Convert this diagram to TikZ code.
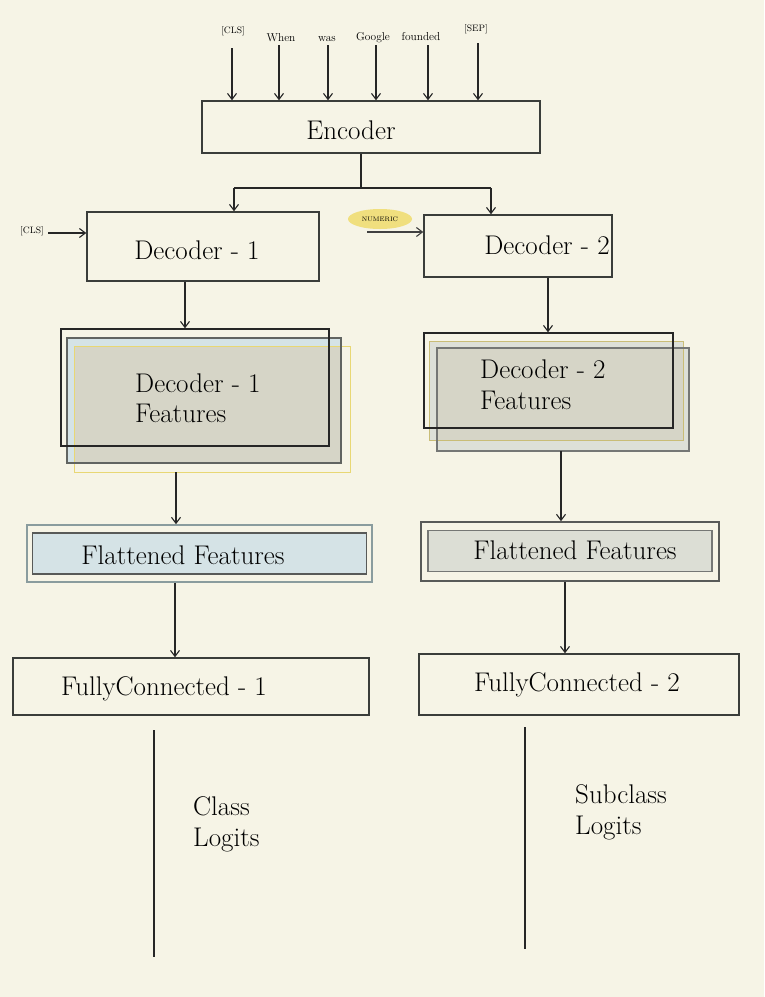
\documentclass[tikz,border=0pt]{standalone}
\usetikzlibrary{arrows.meta,shapes.geometric}
\definecolor{bg}{HTML}{F6F4E6}
\definecolor{boxline}{HTML}{3A3D3A}
\definecolor{featgray}{HTML}{D6D5C7}
\definecolor{featblue}{HTML}{D5E3E6}
\definecolor{featyel}{HTML}{E8D774}
\definecolor{numyel}{HTML}{F0DF7E}
\definecolor{flatline}{HTML}{8A9C9E}
\definecolor{dgray}{HTML}{DDE0D8}
\begin{document}
\begin{tikzpicture}[x=1pt,y=-1pt,
  box/.style={draw=boxline,line width=1.4pt,fill=bg,inner sep=0pt},
  lbl/.style={font=\fontsize{27}{30.5}\selectfont,inner sep=0pt,text=black},
  tok/.style={font=\fontsize{11.4}{12}\selectfont,inner sep=0pt},
  stok/.style={font=\fontsize{9.3}{10}\selectfont,inner sep=0pt},
  arr/.style={draw=black!85,line width=1.2pt,-{Straight Barb[length=6pt,width=9pt,line width=1.1pt]}},
  plain/.style={draw=black!85,line width=1.2pt}]
\useasboundingbox[fill=bg] (0,0) rectangle (764,997);

% tokens
\node[stok] (t1) at (233,31) {[CLS]};
\node[tok] (t2) at (281,38) {When};
\node[tok] (t3) at (327,39) {was};
\node[tok] (t4) at (373,38) {Google};
\node[tok] (t5) at (421,37) {founded};
\node[stok] (t6) at (476,29) {[SEP]};

% encoder
\node[box,minimum width=338pt,minimum height=52pt] (enc) at (371,127) {};
\node[lbl] (enclbl) at (351,130) {Encoder};

\draw[arr] (232,48) coordinate (a1) -- (a1 |- enc.north);
\draw[arr] (279,45) coordinate (a2) -- (a2 |- enc.north);
\draw[arr] (328,45) coordinate (a3) -- (a3 |- enc.north);
\draw[arr] (376,45) coordinate (a4) -- (a4 |- enc.north);
\draw[arr] (428,45) coordinate (a5) -- (a5 |- enc.north);
\draw[arr] (478,43) coordinate (a6) -- (a6 |- enc.north);

% decoders
\node[box,minimum width=232pt,minimum height=69pt] (dec1) at (203,246.5) {};
\node[lbl] (dec1lbl) at (197,250) {Decoder - 1};
\node[box,minimum width=188pt,minimum height=62pt] (dec2) at (518,246) {};
\node[lbl] (dec2lbl) at (547,245) {Decoder - 2};

\coordinate (split) at (361,188);
\draw[plain] (split |- enc.south) -- (split);
\coordinate (sl) at (234,188);
\coordinate (sr) at (491,188);
\draw[plain] (sl) -- (sr);
\draw[arr] (sl) -- (sl |- dec1.north);
\draw[arr] (sr) -- (sr |- dec2.north);

\node[stok] (cls2) at (32,231) {[CLS]};
\coordinate (c2s) at (48,233);
\draw[arr] (c2s) -- (c2s -| dec1.west);

\node[fill=numyel,ellipse,minimum width=64pt,minimum height=20pt,inner sep=0pt,
      font=\fontsize{6.5}{7}\selectfont] (num) at (380,219) {NUMERIC};
\coordinate (ns) at (367,232);
\draw[arr,draw=black!75] (ns) -- (ns -| dec2.west);

% Decoder-1 features stack
\fill[bg] (74,346) rectangle (350,472);
\fill[featblue] (67,338) rectangle (341,463);
\fill[featgray] (74,346) rectangle (341,463);
\draw[featyel,line width=1pt] (74,346) rectangle (350,472);
\draw[boxline!80,line width=1.4pt] (67,338) rectangle (341,463);
\node[draw=black!85,line width=1.4pt,minimum width=268pt,minimum height=117pt,inner sep=0pt] (f1) at (195,387.5) {};
\node[lbl,align=left,anchor=west] (f1lbl) at (135,398) {Decoder - 1\\Features};

% Decoder-2 features stack
\fill[dgray] (429,341) rectangle (683,440);
\fill[dgray] (437,348) rectangle (689,451);
\fill[featgray] (437,348) rectangle (683,440);
\draw[featyel!70!gray,line width=1pt] (429,341) rectangle (683,440);
\draw[boxline!70,line width=1.3pt] (437,348) rectangle (689,451);
\node[draw=black!85,line width=1.4pt,minimum width=249pt,minimum height=95pt,inner sep=0pt] (f2) at (548.5,380.5) {};
\node[lbl,align=left,anchor=west] (f2lbl) at (480,384.5) {Decoder - 2\\Features};

\coordinate (x185) at (185,0);
\coordinate (x548) at (548,0);
\draw[arr] (x185 |- dec1.south) -- (x185 |- f1.north);
\draw[arr] (x548 |- dec2.south) -- (x548 |- f2.north);

% flattened
\node[draw=flatline,line width=1.6pt,fill=bg,minimum width=345pt,minimum height=57pt,inner sep=0pt] (fl1) at (199.5,553.5) {};
\node[draw=boxline!85,line width=1.2pt,fill=featblue,minimum width=334pt,minimum height=41pt,inner sep=0pt] (fl1in) at (199.5,553.5) {};
\node[lbl] (fl1lbl) at (183,555) {Flattened Features};

\node[draw=boxline!85,line width=1.6pt,fill=bg,minimum width=298pt,minimum height=59pt,inner sep=0pt] (fl2) at (570,551.5) {};
\node[draw=boxline!70,line width=1.4pt,fill=dgray!80!featgray,minimum width=284pt,minimum height=41pt,inner sep=0pt] (fl2in) at (570,551) {};
\node[lbl] (fl2lbl) at (575,550) {Flattened Features};

\coordinate (s1) at (176,472);
\coordinate (s2) at (561,451);
\draw[arr] (s1) -- (s1 |- fl1.north);
\draw[arr] (s2) -- (s2 |- fl2.north);

% fully connected
\node[box,minimum width=356pt,minimum height=57pt] (fc1) at (191,686.5) {};
\node[lbl] (fc1lbl) at (164,689) {FullyConnected - 1};
\node[box,minimum width=320pt,minimum height=61pt] (fc2) at (579,684.5) {};
\node[lbl] (fc2lbl) at (577,685) {FullyConnected - 2};

\coordinate (x175) at (175,0);
\coordinate (x565) at (565,0);
\draw[arr] (x175 |- fl1.south) -- (x175 |- fc1.north);
\draw[arr] (x565 |- fl2.south) -- (x565 |- fc2.north);

% output lines
\coordinate (o1a) at (154,730);
\coordinate (o1b) at (154,957);
\coordinate (o2a) at (525,727);
\coordinate (o2b) at (525,949);
\draw[plain] (o1a) -- (o1b);
\draw[plain] (o2a) -- (o2b);
\node[lbl,align=left,anchor=west] (cl) at (193,824.5) {Class\\Logits};
\node[lbl,align=left,anchor=west] (scl) at (575,812.5) {Subclass\\Logits};
\end{tikzpicture}
\end{document}
